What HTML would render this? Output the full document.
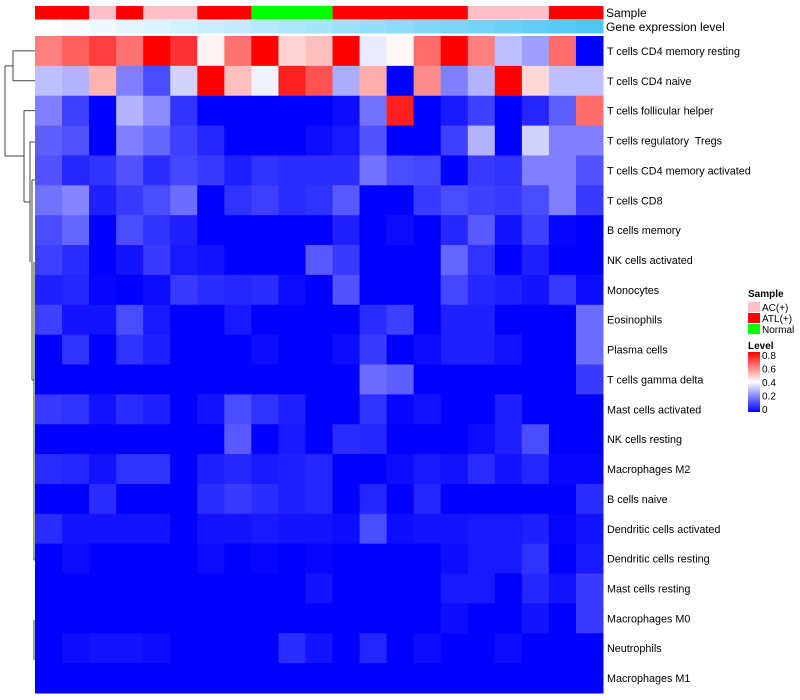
<!DOCTYPE html>
<html><head><meta charset="utf-8"><style>
body{margin:0;background:#fff;}
svg{display:block;font-family:"Liberation Sans",sans-serif;}
text{white-space:pre;}
</style></head><body>
<svg id="c" width="800" height="700"></svg>
<script>
const rowLabels=["T cells CD4 memory resting","T cells CD4 naive","T cells follicular helper","T cells regulatory  Tregs","T cells CD4 memory activated","T cells CD8","B cells memory","NK cells activated","Monocytes","Eosinophils","Plasma cells","T cells gamma delta","Mast cells activated","NK cells resting","Macrophages M2","B cells naive","Dendritic cells activated","Dendritic cells resting","Mast cells resting","Macrophages M0","Neutrophils","Macrophages M1"];
const sampleGroups=["ATL(+)","ATL(+)","AC(+)","ATL(+)","AC(+)","AC(+)","ATL(+)","ATL(+)","Normal","Normal","Normal","ATL(+)","ATL(+)","ATL(+)","ATL(+)","ATL(+)","AC(+)","AC(+)","AC(+)","ATL(+)","ATL(+)"];
const geneLevels=[0,0.05,0.1,0.15,0.2,0.25,0.3,0.35,0.4,0.45,0.5,0.55,0.6,0.65,0.7,0.75,0.8,0.85,0.9,0.95,1];
const values=[
[0.6,0.65,0.7,0.62,0.8,0.72,0.42,0.62,0.8,0.47,0.5,0.8,0.37,0.41,0.63,0.8,0.6,0.3,0.25,0.63,0],
[0.3,0.28,0.52,0.2,0.12,0.33,0.8,0.5,0.38,0.75,0.67,0.27,0.53,0,0.58,0.2,0.28,0.8,0.46,0.3,0.3],
[0.2,0.1,0,0.28,0.22,0.08,0,0,0,0,0,0.02,0.18,0.75,0,0.04,0.1,0,0.06,0.15,0.63],
[0.15,0.13,0,0.2,0.16,0.1,0.06,0,0,0,0.02,0.04,0.13,0,0,0.1,0.28,0,0.33,0.2,0.2],
[0.13,0.06,0.08,0.13,0.07,0.11,0.09,0.05,0.08,0.07,0.07,0.07,0.18,0.12,0.11,0,0.09,0.08,0.2,0.2,0.13],
[0.18,0.21,0.05,0.09,0.12,0.17,0,0.08,0.1,0.07,0.08,0.14,0,0,0.09,0.12,0.1,0.09,0.12,0.2,0.09],
[0.12,0.16,0,0.12,0.08,0.05,0,0,0,0,0,0.05,0,0.02,0,0.06,0.14,0.03,0.1,0.01,0],
[0.1,0.07,0,0.03,0.09,0.04,0.03,0,0,0,0.14,0.09,0,0,0,0.16,0.08,0,0.05,0,0],
[0.05,0.06,0.01,0,0.02,0.09,0.07,0.06,0.07,0.02,0,0.13,0,0,0,0.11,0.06,0.05,0.03,0.09,0.02],
[0.1,0.03,0.03,0.12,0.04,0,0,0.04,0,0,0,0,0.07,0.1,0,0.05,0.05,0,0,0,0.17],
[0,0.08,0,0.08,0.05,0,0,0,0.02,0,0,0.02,0.09,0,0.02,0.05,0.05,0.03,0,0,0.17],
[0,0,0,0,0,0,0,0,0,0,0,0,0.17,0.15,0,0,0,0,0,0,0.09],
[0.09,0.08,0.03,0.07,0.05,0,0.03,0.12,0.08,0.05,0,0,0.08,0.01,0.03,0,0,0.05,0,0,0],
[0,0,0,0,0,0,0,0.14,0,0.04,0,0.07,0.06,0,0,0,0.02,0.05,0.12,0,0],
[0.07,0.06,0.03,0.08,0.08,0,0.05,0.06,0.04,0.05,0.06,0,0,0.02,0.04,0.03,0.07,0.03,0.06,0.01,0.01],
[0,0,0.07,0,0,0,0.07,0.09,0.07,0.05,0.06,0,0.06,0,0.06,0,0,0,0,0,0.07],
[0.07,0.03,0.03,0.03,0.03,0,0.03,0.03,0.04,0.03,0.03,0.02,0.12,0.02,0.03,0.03,0.04,0.04,0.05,0.01,0.03],
[0,0.02,0,0,0,0,0.02,0,0.01,0,0.01,0,0,0,0,0.02,0.04,0.04,0.08,0,0.04],
[0,0,0,0,0,0,0,0,0,0,0.03,0,0,0,0,0.04,0.04,0,0.06,0.03,0.09],
[0,0,0,0,0,0,0,0,0,0,0,0,0,0,0,0.02,0,0,0.03,0,0.09],
[0,0.02,0.03,0.03,0.02,0,0,0,0,0.07,0.03,0,0.06,0,0.02,0,0,0.02,0,0,0],
[0,0,0,0,0,0,0,0,0,0,0,0,0,0,0,0,0,0,0,0,0]];
const legendTicks=[0,0.2,0.4,0.6,0.8];
const groupColors={"AC(+)":"#FFC0CB","ATL(+)":"#FF0000","Normal":"#00FF00"};

const NS="http://www.w3.org/2000/svg";
const svg=document.getElementById('c');
const X0=35,X1=603,Y0=36,Y1=693;
const nC=sampleGroups.length,nR=rowLabels.length;
const cw=(X1-X0)/nC,rh=(Y1-Y0)/nR;
const xPos=i=>X0+i*cw, yPos=j=>Y0+j*rh;
function mk(t,a,p){const e=document.createElementNS(NS,t);for(const k in a)e.setAttribute(k,a[k]);(p||svg).appendChild(e);return e;}
function col(v){v=Math.max(0,Math.min(0.8,v));let r,g,b;
 if(v<=0.4){const t=v/0.4;r=255*t;g=255*t;b=255;}else{const t=(v-0.4)/0.4;r=255;g=255*(1-t);b=255*(1-t);}
 return `rgb(${r|0},${g|0},${b|0})`;}
function lvl(v){const r=255+(79-255)*v,g=255+(200-255)*v,b=255+(245-255)*v;return `rgb(${r|0},${g|0},${b|0})`;}
for(let i=0;i<nC;i++){
 const a=mk('rect',{x:xPos(i),y:6,width:cw+0.5,height:13.5,fill:groupColors[sampleGroups[i]]});
 
 
 const b=mk('rect',{x:xPos(i),y:20,width:cw+0.5,height:13.5,fill:lvl(geneLevels[i])});
 
 
}
let t=mk('text',{x:606,y:17,'font-size':12});t.textContent="Sample";

t=mk('text',{x:606,y:31,'font-size':12});t.textContent="Gene expression level";

for(let j=0;j<nR;j++){
 for(let i=0;i<nC;i++){
  const r=mk('rect',{x:xPos(i),y:yPos(j),width:cw+0.5,height:rh+0.5,fill:col(values[j][i])});
  
  
 }
 const l=mk('text',{x:607,y:yPos(j)+rh/2+4,'font-size':10.8,fill:'#000'});
 l.textContent=rowLabels[j];
 
 
}
const cy=j=>yPos(j)+rh/2;
const dg=mk('g',{stroke:'#444','stroke-width':1,fill:'none'});

const segs=[[13,cy(0),35,cy(0)],[13,cy(1),35,cy(1)],[13,cy(0),13,cy(1)],
[5,(cy(0)+cy(1))/2,13,(cy(0)+cy(1))/2],[5,(cy(0)+cy(1))/2,5,156],[5,156,24,156],
[24,cy(2),35,cy(2)],[24,cy(2),24,202],[24,202,30,202],
[30,142,30,262],[30,142,35,142],
[32,180,32,380],[32,180,35,180],[32,380,34,380],[34,262,34,560],[34,560,35,560],[34,620,34,660]];
segs.forEach(s=>mk('line',{x1:s[0],y1:s[1],x2:s[2],y2:s[3]},dg));
t=mk('text',{x:748,y:297,'font-size':10,'font-weight':'bold'});t.textContent="Sample";

["AC(+)","ATL(+)","Normal"].forEach((g,k)=>{
 const r=mk('rect',{x:748,y:302+k*11,width:12,height:10,fill:groupColors[g]});
 
 const tx=mk('text',{x:762,y:311+k*11,'font-size':10});tx.textContent=g;
 
});
t=mk('text',{x:748,y:349,'font-size':10,'font-weight':'bold'});t.textContent="Level";

const defs=mk('defs',{});const lg=mk('linearGradient',{id:'lg',x1:0,y1:1,x2:0,y2:0},defs);
[0,0.5,1].forEach((o,k)=>mk('stop',{offset:o,'stop-color':['#0000FF','#FFFFFF','#FF0000'][k]},lg));
const cb=mk('rect',{x:748,y:352,width:12,height:60,fill:'url(#lg)'});

const ly=v=>409-v/0.8*54;
legendTicks.forEach(v=>{
 const tx=mk('text',{x:762,y:ly(v)+4,'font-size':10});tx.textContent=String(v);
 
});
</script>
</body></html>
